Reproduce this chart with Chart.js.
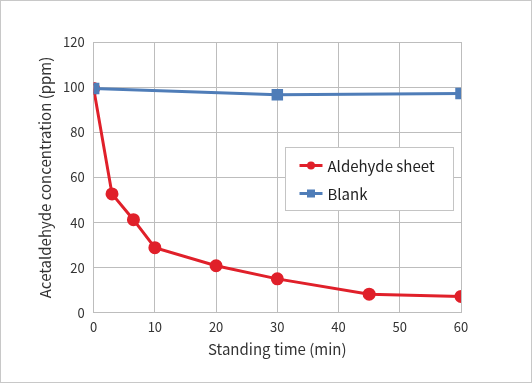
<!DOCTYPE html>
<html>
<head>
<meta charset="utf-8">
<script src="https://cdn.jsdelivr.net/npm/chart.js@4.4.1/dist/chart.umd.min.js"></script>
<style>
  html, body { margin: 0; padding: 0; background: #fff; }
  #wrap { width: 532px; height: 383px; position: relative; }
</style>
</head>
<body>
<div id="wrap"><canvas id="chart"></canvas></div>
<script>
const sheetTimes = [0, 3, 6.5, 10, 20, 30, 45, 60];
const sheetValues = [99.4, 52.7, 41.3, 28.9, 20.9, 15.1, 8.3, 7.3];
const blankTimes = [0, 30, 60];
const blankValues = [99.4, 96.6, 97.2];
const seriesNames = ['Aldehyde sheet', 'Blank'];
const xTitle = 'Standing time (min)';
const yTitle = 'Acetaldehyde concentration (ppm)';

const FONT = "'Noto Sans CJK JP', 'Noto Sans', sans-serif";
const RED = '#e0202a';
const BLUE = '#4f7db8';

// outer frame and the boxed legend inside the plot
const decorations = {
    id: 'decorations',
    afterDraw(chart) {
        const ctx = chart.ctx;
        const area = chart.chartArea;
        ctx.save();
        ctx.strokeStyle = '#c8c8c8';
        ctx.lineWidth = 1;
        ctx.strokeRect(0.5, 0.5, chart.width - 1, chart.height - 1);

        const bx = Math.round(area.left + 191) + 0.5;
        const by = Math.round(area.top + 105) + 0.5;
        const bw = 168, bh = 63;
        ctx.fillStyle = '#fff';
        ctx.fillRect(bx, by, bw, bh);
        ctx.strokeStyle = '#c4c4c4';
        ctx.strokeRect(bx, by, bw, bh);

        ctx.font = '15px ' + FONT;
        ctx.textBaseline = 'middle';
        chart.data.datasets.forEach((ds, i) => {
            const cy = by + 18 + i * 28;
            const lx = bx + 14;
            ctx.strokeStyle = ds.borderColor;
            ctx.lineWidth = 3;
            ctx.beginPath();
            ctx.moveTo(lx, cy);
            ctx.lineTo(lx + 23, cy);
            ctx.stroke();
            ctx.fillStyle = ds.borderColor;
            if (ds.pointStyle === 'rect') {
                ctx.fillRect(lx + 7.5, cy - 4, 8, 8);
            } else {
                ctx.beginPath();
                ctx.arc(lx + 11.5, cy, 4, 0, Math.PI * 2);
                ctx.fill();
            }
            ctx.fillStyle = '#222';
            ctx.fillText(ds.label, lx + 28, cy + 1);
        });
        ctx.restore();
    }
};

new Chart(document.getElementById('chart'), {
    type: 'line',
    data: {
        datasets: [{
            label: seriesNames[0],
            data: sheetTimes.map((t, i) => ({ x: t, y: sheetValues[i] })),
            borderColor: RED,
            backgroundColor: RED,
            borderWidth: 3,
            pointStyle: 'circle',
            pointRadius: 5,
            tension: 0,
            order: 1
        }, {
            label: seriesNames[1],
            data: blankTimes.map((t, i) => ({ x: t, y: blankValues[i] })),
            borderColor: BLUE,
            backgroundColor: BLUE,
            borderWidth: 3,
            pointStyle: 'rect',
            pointRadius: 6,
            tension: 0,
            order: 0
        }]
    },
    options: {
        responsive: true,
        maintainAspectRatio: false,
        animation: false,
        layout: { padding: { left: 36, right: 71, top: 42, bottom: 26 } },
        scales: {
            x: {
                type: 'linear',
                min: 0,
                max: 60,
                ticks: { stepSize: 10, color: '#333', padding: 9, font: { family: FONT, size: 13, lineHeight: 0.85 } },
                grid: { color: '#bdbdbd', drawTicks: false },
                border: { color: '#bdbdbd' },
                title: { display: true, text: xTitle, color: '#333', padding: 0, font: { family: FONT, size: 15, lineHeight: 1 } }
            },
            y: {
                min: 0,
                max: 120,
                ticks: { stepSize: 20, color: '#333', padding: 9, font: { family: FONT, size: 13 } },
                grid: { color: '#bdbdbd', drawTicks: false },
                border: { color: '#bdbdbd' },
                title: { display: true, text: yTitle, color: '#333', padding: { top: 0, bottom: 0 }, font: { family: FONT, size: 15 } }
            }
        },
        plugins: {
            legend: { display: false },
            tooltip: { enabled: false }
        }
    },
    plugins: [decorations]
});
</script>
</body>
</html>
